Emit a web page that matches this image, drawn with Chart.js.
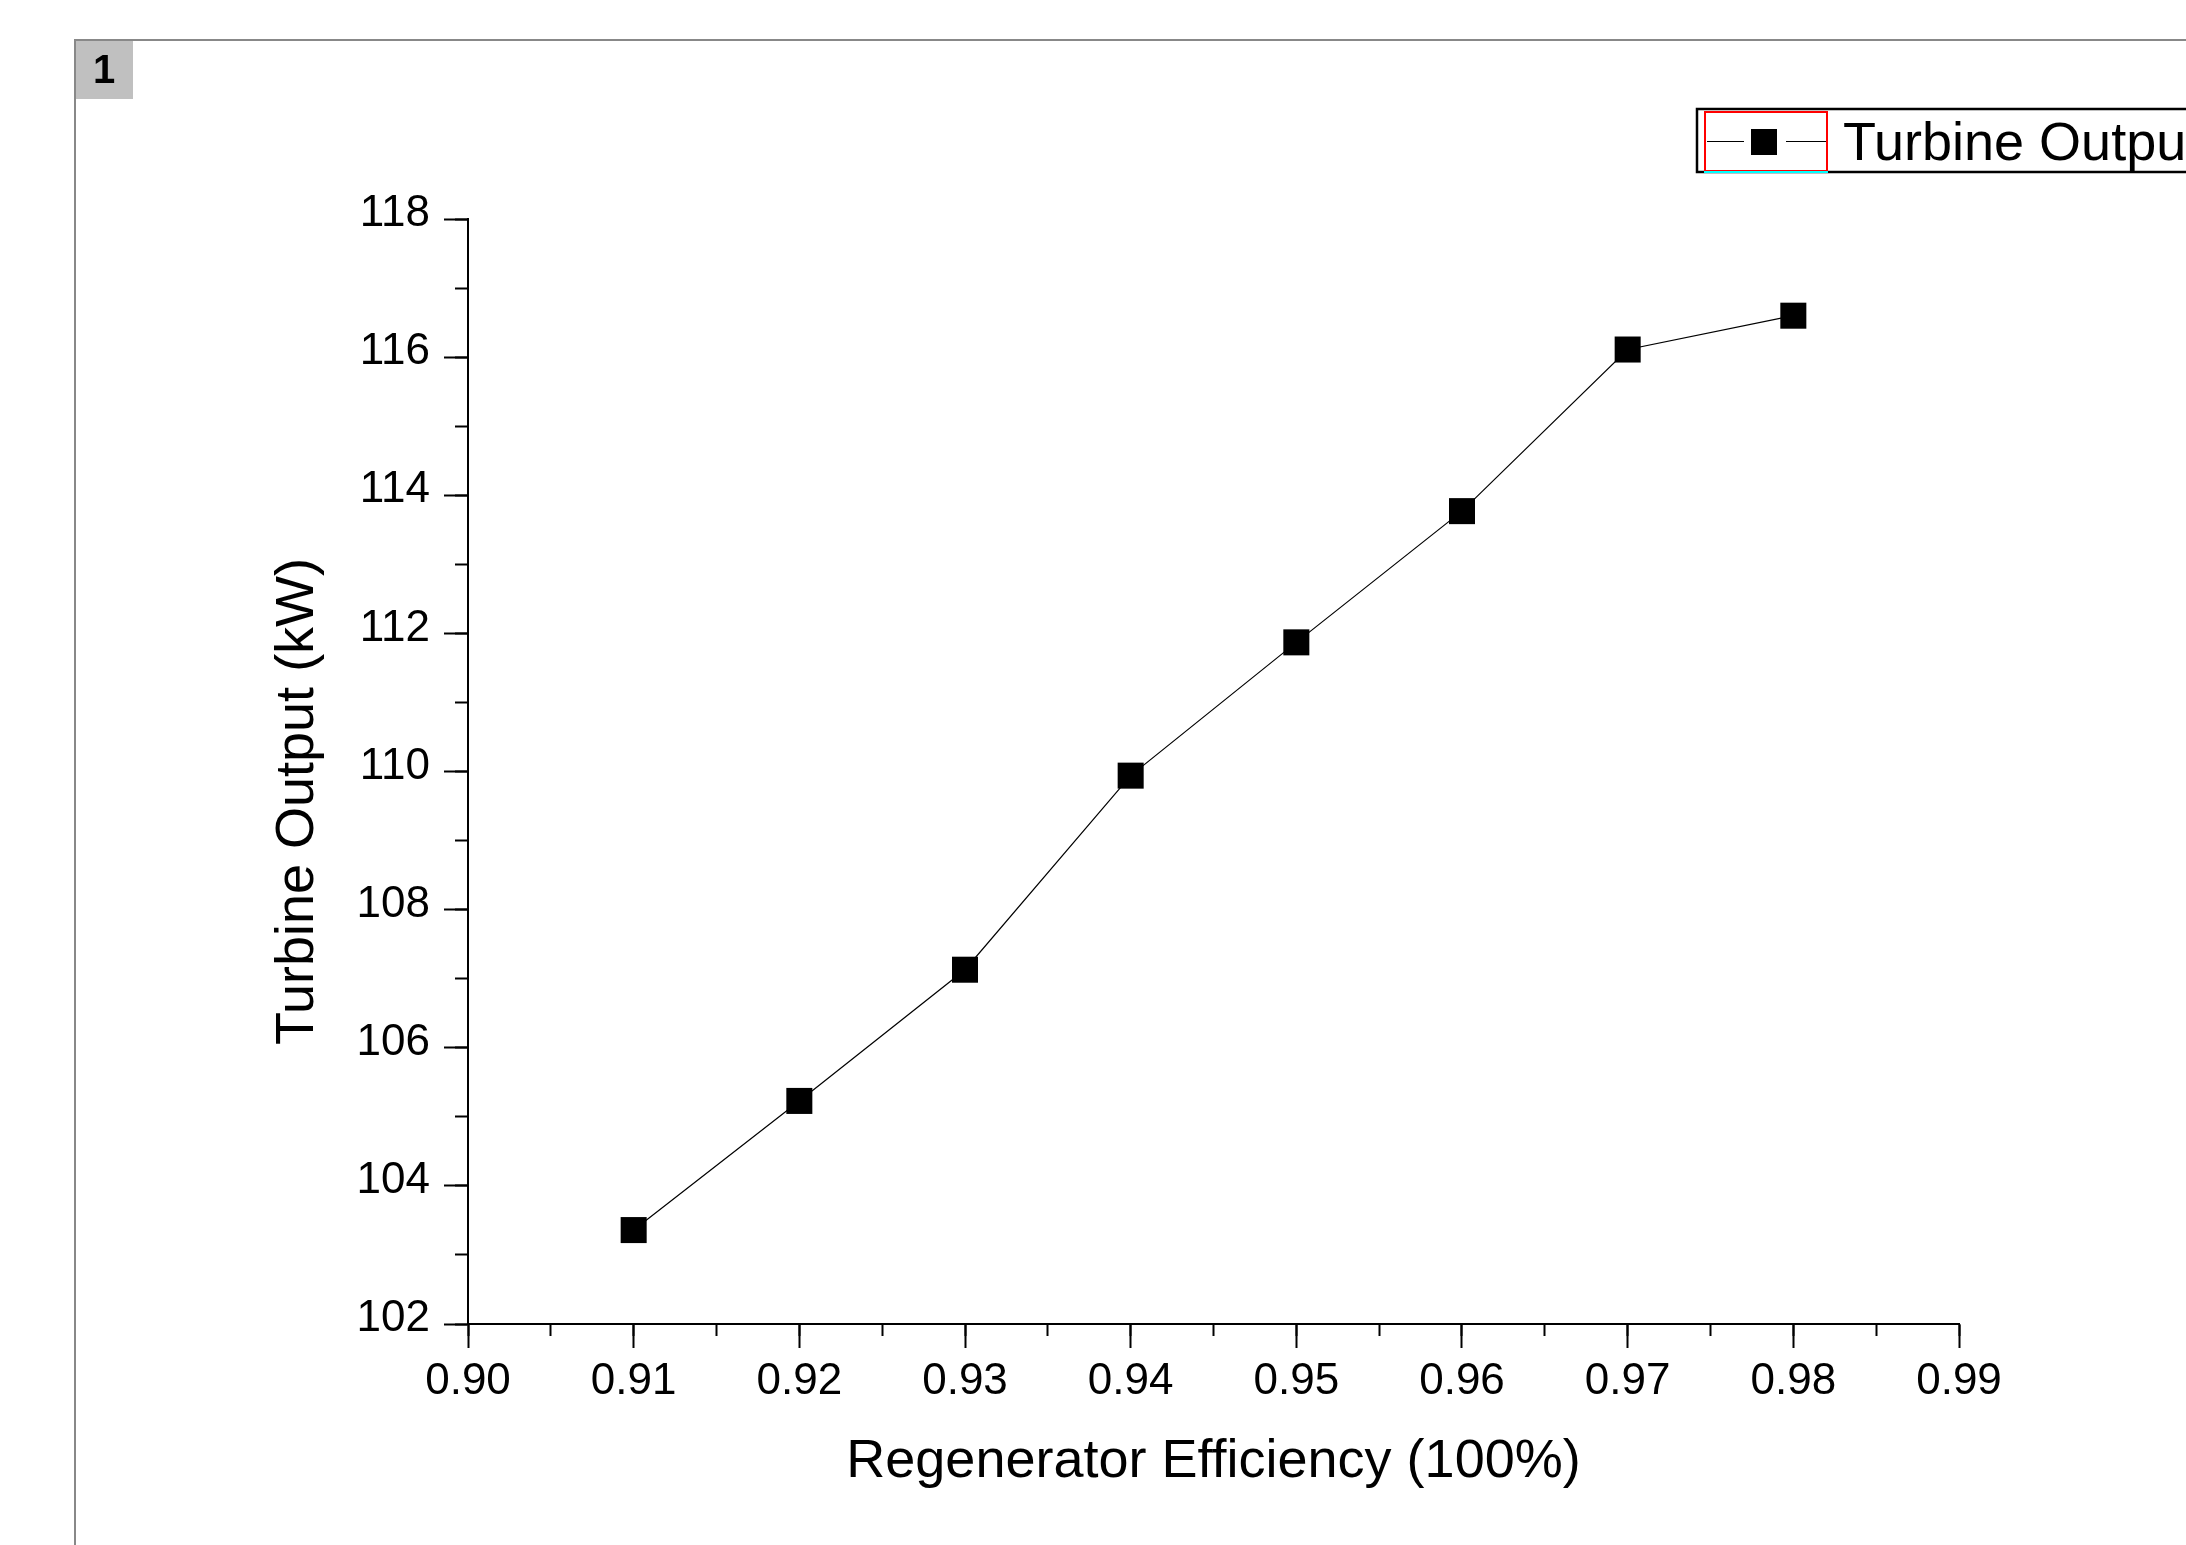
<!DOCTYPE html>
<html>
<head>
<meta charset="utf-8">
<title>Turbine Output</title>
<script src="https://cdn.jsdelivr.net/npm/chart.js@4/dist/chart.umd.min.js"></script>
<style>
  html, body { margin: 0; padding: 0; background: #fff; }
  canvas { display: block; }
</style>
</head>
<body>
<canvas id="myChart" width="2186" height="1545"></canvas>
<script>
// data
let efficiency = [0.91, 0.92, 0.93, 0.94, 0.95, 0.96, 0.97, 0.98];
let turbineOutput = [103.36, 105.23, 107.13, 109.94, 111.87, 113.77, 116.11, 116.60];
let seriesName = "Turbine Output";
let xTitle = "Regenerator Efficiency (100%)";
let yTitle = "Turbine Output (kW)";
let pageLabel = "1";

let fontFamily = "'Liberation Sans', Arial, sans-serif";
let tickFont = { family: fontFamily, size: 44 };

// gray frame, page number box and the legend (Origin style)
let decorations = {
  id: "decorations",
  beforeDraw: function(chart) {
    let ctx = chart.ctx;
    ctx.save();
    ctx.fillStyle = "#ffffff";
    ctx.fillRect(0, 0, chart.width, chart.height);
    ctx.strokeStyle = "#888888";
    ctx.lineWidth = 2;
    ctx.beginPath();
    ctx.moveTo(75, chart.height);
    ctx.lineTo(75, 40);
    ctx.lineTo(chart.width, 40);
    ctx.stroke();
    ctx.fillStyle = "#c0c0c0";
    ctx.fillRect(76, 41, 57, 58);
    ctx.fillStyle = "#000";
    ctx.font = "bold 40px " + fontFamily;
    ctx.textAlign = "center";
    ctx.textBaseline = "middle";
    ctx.fillText(pageLabel, 104, 72);
    ctx.restore();
  },
  afterDraw: function(chart) {
    let ctx = chart.ctx;
    let ds = chart.data.datasets[0];
    ctx.save();
    ctx.strokeStyle = "#000";
    ctx.lineWidth = 2.5;
    ctx.strokeRect(1697, 109, 600, 63);
    // selection marks around the symbol
    ctx.lineWidth = 2;
    ctx.strokeStyle = "#ff0000";
    ctx.strokeRect(1705, 112, 122, 59);
    ctx.strokeStyle = "#00ffff";
    ctx.beginPath();
    ctx.moveTo(1704, 172);
    ctx.lineTo(1828, 172);
    ctx.stroke();
    // symbol
    ctx.strokeStyle = "#000";
    ctx.lineWidth = 1.2;
    ctx.beginPath();
    ctx.moveTo(1707, 141.5);
    ctx.lineTo(1744, 141.5);
    ctx.moveTo(1786, 141.5);
    ctx.lineTo(1826, 141.5);
    ctx.stroke();
    ctx.fillStyle = "#000";
    ctx.fillRect(1751, 129, 26, 26);
    ctx.font = "54px " + fontFamily;
    ctx.textAlign = "left";
    ctx.textBaseline = "alphabetic";
    ctx.fillText(ds.label, 1843, 160);
    ctx.restore();
  }
};

let points = efficiency.map(function(x, i) { return { x: x, y: turbineOutput[i] }; });

new Chart("myChart", {
  type: "line",
  data: {
    datasets: [{
      label: seriesName,
      data: points,
      borderColor: "#000",
      borderWidth: 1.2,
      backgroundColor: "#000",
      pointStyle: "rect",
      pointRadius: 18.4,
      pointBorderWidth: 0,
      pointBackgroundColor: "#000",
      tension: 0,
      xAxisID: "x",
      yAxisID: "y"
    }]
  },
  options: {
    responsive: false,
    animation: false,
    devicePixelRatio: 1,
    layout: { padding: { left: 0, right: 227, top: 219, bottom: 0 } },
    plugins: {
      legend: { display: false },
      tooltip: { enabled: false }
    },
    scales: {
      x: {
        type: "linear",
        position: "bottom",
        weight: 1,
        min: 0.90,
        max: 0.99,
        afterFit: function(s) { s.height = 221; },
        border: { display: true, color: "#000", width: 2 },
        grid: { drawOnChartArea: false, tickLength: 24, tickWidth: 2, tickColor: "#000" },
        ticks: {
          stepSize: 0.01,
          padding: 7,
          color: "#000",
          font: tickFont,
          maxRotation: 0,
          autoSkip: false,
          callback: function(v) { return v.toFixed(2); }
        },
        title: {
          display: true,
          text: xTitle,
          color: "#000",
          font: { family: fontFamily, size: 54 },
          padding: { top: 0, bottom: 50 }
        }
      },
      x2: {
        type: "linear",
        axis: "x",
        position: "bottom",
        weight: 0,
        min: 0.90,
        max: 0.99,
        afterFit: function(s) { s.height = 0; },
        border: { display: false },
        grid: { drawOnChartArea: false, tickLength: 12, tickWidth: 2, tickColor: "#000" },
        ticks: { display: false, stepSize: 0.005, autoSkip: false }
      },
      y: {
        type: "linear",
        position: "left",
        weight: 1,
        min: 102,
        max: 118,
        afterFit: function(s) { s.width = 468; },
        border: { display: true, color: "#000", width: 2 },
        grid: { drawOnChartArea: false, tickLength: 24, tickWidth: 2, tickColor: "#000" },
        ticks: {
          stepSize: 2,
          padding: 14,
          labelOffset: -5,
          color: "#000",
          font: tickFont
        },
        title: {
          display: true,
          // trailing spaces push the title down a little, as in the original
          text: yTitle + "    ",
          color: "#000",
          font: { family: fontFamily, size: 54 },
          padding: { top: 266, bottom: 0 }
        }
      },
      y2: {
        type: "linear",
        axis: "y",
        position: "left",
        weight: 0,
        min: 102,
        max: 118,
        afterFit: function(s) { s.width = 0; },
        border: { display: false },
        grid: { drawOnChartArea: false, tickLength: 13, tickWidth: 2, tickColor: "#000" },
        ticks: { display: false, stepSize: 1 }
      }
    }
  },
  plugins: [decorations]
});
</script>
</body>
</html>
